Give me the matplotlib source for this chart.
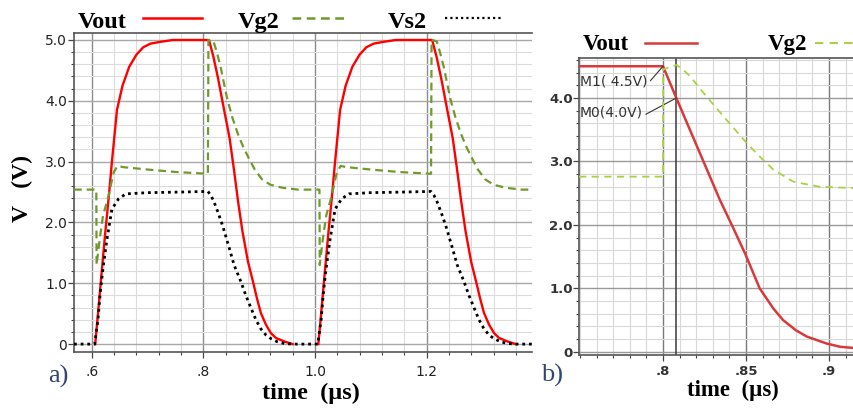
import numpy as np
import matplotlib.pyplot as plt
from matplotlib.lines import Line2D
from matplotlib.ticker import MultipleLocator, FixedLocator, FixedFormatter

nan = np.nan

# ---- panel a) two switching cycles (time in us, volts) ----
t_out = [0.606, 0.611, 0.617, 0.624, 0.630, 0.636, 0.645, 0.655, 0.667, 0.680, 0.692, 0.705, 0.723, 0.745, 0.810,
         0.818, 0.826, 0.835, 0.847, 0.855, 0.862, 0.870, 0.880, 0.889, 0.896, 0.903, 0.912, 0.921, 0.930, 0.946, 0.960,
         0.983,
         1.006, 1.011, 1.017, 1.024, 1.030, 1.036, 1.045, 1.055, 1.067, 1.080, 1.092, 1.105, 1.123, 1.145, 1.210,
         1.218, 1.226, 1.235, 1.247, 1.255, 1.262, 1.270, 1.280, 1.289, 1.296, 1.303, 1.312, 1.321, 1.330, 1.346, 1.360]
v_out = [0.00, 0.50, 1.12, 1.83, 2.39, 3.00, 3.85, 4.25, 4.56, 4.76, 4.88, 4.94, 4.97, 5.00, 5.00,
         4.72, 4.38, 3.95, 3.38, 2.85, 2.35, 1.85, 1.35, 1.02, 0.75, 0.51, 0.32, 0.18, 0.10, 0.04, 0.00,
         nan,
         0.00, 0.50, 1.12, 1.83, 2.39, 3.00, 3.85, 4.25, 4.56, 4.76, 4.88, 4.94, 4.97, 5.00, 5.00,
         4.72, 4.38, 3.95, 3.38, 2.85, 2.35, 1.85, 1.35, 1.02, 0.75, 0.51, 0.32, 0.18, 0.10, 0.04, 0.00]

t_g2 = [0.568, 0.608, 0.6085, 0.614, 0.620, 0.630, 0.639, 0.646, 0.656, 0.700, 0.750, 0.808,
        0.809, 0.818, 0.824, 0.831, 0.837, 0.843, 0.852, 0.862, 0.871, 0.880, 0.892, 0.905, 0.920, 0.942, 0.970,
        1.008, 1.0085, 1.014, 1.020, 1.030, 1.039, 1.046, 1.056, 1.100, 1.150, 1.208,
        1.209, 1.218, 1.224, 1.231, 1.237, 1.243, 1.252, 1.262, 1.271, 1.280, 1.292, 1.305, 1.320, 1.342, 1.370, 1.389]
v_g2 = [2.54, 2.54, 1.30, 1.72, 2.11, 2.44, 2.82, 2.93, 2.91, 2.87, 2.83, 2.80,
        5.00, 4.98, 4.80, 4.55, 4.28, 4.02, 3.72, 3.45, 3.25, 3.08, 2.87, 2.71, 2.62, 2.57, 2.54,
        2.54, 1.30, 1.72, 2.11, 2.44, 2.82, 2.93, 2.91, 2.87, 2.83, 2.80,
        5.00, 4.98, 4.80, 4.55, 4.28, 4.02, 3.72, 3.45, 3.25, 3.08, 2.87, 2.71, 2.62, 2.57, 2.54, 2.54]

t_s2 = [0.568, 0.605, 0.611, 0.615, 0.620, 0.627, 0.636, 0.648, 0.661, 0.700, 0.760, 0.808,
        0.813, 0.818, 0.826, 0.835, 0.845, 0.855, 0.867, 0.876, 0.885, 0.894, 0.903, 0.912, 0.921, 0.932, 0.945, 0.960,
        1.005, 1.011, 1.015, 1.020, 1.027, 1.036, 1.048, 1.061, 1.100, 1.160, 1.208,
        1.213, 1.218, 1.226, 1.235, 1.245, 1.255, 1.267, 1.276, 1.285, 1.294, 1.303, 1.312, 1.321, 1.332, 1.345, 1.360, 1.389]
v_s2 = [0.00, 0.00, 0.40, 0.84, 1.25, 1.72, 2.22, 2.39, 2.47, 2.49, 2.50, 2.51,
        2.45, 2.36, 2.17, 1.93, 1.62, 1.30, 1.03, 0.80, 0.60, 0.40, 0.25, 0.15, 0.09, 0.04, 0.01, 0.00,
        0.00, 0.40, 0.84, 1.25, 1.72, 2.22, 2.39, 2.47, 2.49, 2.50, 2.51,
        2.45, 2.36, 2.17, 1.93, 1.62, 1.30, 1.03, 0.80, 0.60, 0.40, 0.25, 0.15, 0.09, 0.04, 0.01, 0.00, 0.00]

# ---- panel b) zoom on the falling edge ----
tb_out = [0.7494, 0.800, 0.808, 0.8343, 0.8414, 0.8494, 0.8582, 0.8665, 0.8723, 0.880, 0.8866, 0.8986, 0.9066, 0.915]
vb_out = [4.50, 4.50, 4.00, 2.39, 2.00, 1.55, 1.00, 0.68, 0.50, 0.34, 0.24, 0.13, 0.08, 0.06]
tb_g2 = [0.7494, 0.800, 0.8001, 0.8082, 0.812, 0.8163, 0.8263, 0.8384, 0.8504, 0.8585, 0.8665, 0.8785, 0.8946, 0.915]
vb_g2 = [2.76, 2.76, 4.45, 4.52, 4.45, 4.34, 4.02, 3.65, 3.29, 3.07, 2.87, 2.68, 2.60, 2.58]

marker_t = [0.800, 0.808]
marker_v = [4.5, 4.0]
marker_labels = ["M1( 4.5V)", "M0(4.0V)"]

W, H = 854, 409
def fx(px): return px / W
def fy(py): return 1 - py / H

serif = "Liberation Serif"
fig = plt.figure(figsize=(W / 100, H / 100), dpi=100)

# ---------------- panel a ----------------
ax = fig.add_axes([fx(74), fy(352), fx(532) - fx(74), fy(33) - fy(352)])
ax.plot(t_out, v_out, color="#ff0000", lw=1.7, zorder=3)
ax.plot(t_g2, v_g2, color="#6f9a2e", lw=1.6, ls=(0, (3.5, 2.2)), zorder=4)
ax.plot(t_s2, v_s2, color="black", lw=2.0, ls=(0, (1, 1.4)), zorder=5)
ax.set_xlim(0.568, 1.389)
ax.set_ylim(-0.13, 5.115)

ax.xaxis.set_major_locator(FixedLocator([0.6, 0.8, 1.0, 1.2]))
ax.xaxis.set_major_formatter(FixedFormatter([".6", ".8", "1.0", "1.2"]))
ax.xaxis.set_minor_locator(FixedLocator(np.arange(0.6, 1.39, 0.04)))
ax.yaxis.set_major_locator(FixedLocator([0, 1, 2, 3, 4, 5]))
ax.yaxis.set_major_formatter(FixedFormatter(["0", "1.0", "2.0", "3.0", "4.0", "5.0"]))
ax.yaxis.set_minor_locator(MultipleLocator(0.2))
ax.grid(which="minor", color="#dcdcdc", lw=0.8)
ax.grid(which="major", axis="y", color="#a8a8a8", lw=1.0)
ax.grid(which="major", axis="x", color="#8c8c8c", lw=1.0)
ax.set_axisbelow(True)
ax.tick_params(which="major", direction="out", length=4.5, width=0.9, color="#444", labelsize=10, labelcolor="#222")
ax.tick_params(which="minor", direction="out", length=2.5, width=0.8, color="#444")
ax.tick_params(axis="y", pad=0.5)
ax.tick_params(axis="x", pad=5)
ax.spines["right"].set_visible(False)
for s in ("top", "left", "bottom"):
    ax.spines[s].set_color("#555")
    ax.spines[s].set_linewidth(1.2)

# legend row above panel a
legend_a = [("Vout", 78, 143, 202, dict(color="#ff0000", lw=1.8)),
            ("Vg2", 238, 292, 344, dict(color="#6f9a2e", lw=1.8, ls=(0, (3.5, 2.2)))),
            ("Vs2", 388, 445, 501, dict(color="black", lw=1.6, ls=(0, (1, 1.4))))]
for name, tx, l0, l1, style in legend_a:
    fig.text(fx(tx), fy(28), name, family=serif, weight="bold", fontsize=17.5, ha="left", va="baseline")
    fig.add_artist(Line2D([fx(l0), fx(l1)], [fy(18), fy(18)], transform=fig.transFigure, **style))

fig.text(fx(22), fy(188), "V   (V)", family=serif, weight="bold", fontsize=17, rotation=90, ha="center", va="center")
fig.text(fx(311), fy(393), "time  (\u00b5s)", family=serif, weight="bold", fontsize=17.5, ha="center", va="center")
fig.text(fx(58), fy(376), "a)", family=serif, fontsize=19, color="#2e4670", ha="center", va="center")

# ---------------- panel b ----------------
bx = fig.add_axes([fx(579), fy(355), 1 - fx(579), fy(58) - fy(355)])
bx.plot(tb_out, vb_out, color="#d8393b", lw=1.8, zorder=3)
bx.plot(tb_g2, vb_g2, color="#a9d143", lw=1.3, ls=(0, (4, 3)), zorder=4)
bx.axvline(marker_t[1], color="#3a3a3a", lw=1.1, zorder=2)
bx.set_xlim(0.7494, 0.915)
bx.set_ylim(-0.05, 4.63)

bx.xaxis.set_major_locator(FixedLocator([0.8, 0.85, 0.9]))
bx.xaxis.set_major_formatter(FixedFormatter([".8", ".85", ".9"]))
bx.xaxis.set_minor_locator(MultipleLocator(0.01))
bx.yaxis.set_major_locator(FixedLocator([0, 1, 2, 3, 4]))
bx.yaxis.set_major_formatter(FixedFormatter(["0", "1.0", "2.0", "3.0", "4.0"]))
bx.yaxis.set_minor_locator(MultipleLocator(0.2))
bx.grid(which="minor", color="#d8d8d8", lw=0.8)
bx.grid(which="major", axis="y", color="#9a9a9a", lw=1.0)
bx.grid(which="major", axis="x", color="#7a7a7a", lw=1.0)
bx.set_axisbelow(True)
bx.tick_params(which="major", direction="out", length=4, width=0.9, color="#444", labelsize=9.5, labelcolor="#333")
bx.tick_params(which="minor", direction="out", length=2.5, width=0.8, color="#444")
bx.tick_params(axis="y", pad=0.5)
bx.tick_params(axis="x", pad=3.5)
for lab in bx.get_xticklabels() + bx.get_yticklabels():
    lab.set_fontweight("bold")
bx.spines["right"].set_visible(False)
for s in ("top", "left", "bottom"):
    bx.spines[s].set_color("#555")
    bx.spines[s].set_linewidth(1.2)

label_pos = [(0.004, 0.922), (0.004, 0.815)]
for t, v, lab, pos in zip(marker_t, marker_v, marker_labels, label_pos):
    bx.annotate(lab, xy=(t, v), xytext=pos, textcoords="axes fraction", fontsize=10, color="#333",
                ha="left", va="center",
                arrowprops=dict(arrowstyle="-", color="#333", lw=0.8, shrinkA=0, shrinkB=0, relpos=(1, 0.3)))

legend_b = [("Vout", 583, 645, 697, dict(color="#d8393b", lw=1.8)),
            ("Vg2", 768, 815, 854, dict(color="#a9d143", lw=1.5, ls=(0, (4, 3))))]
for name, tx, l0, l1, style in legend_b:
    fig.text(fx(tx), fy(50), name, family=serif, weight="bold", fontsize=16.5, ha="left", va="baseline")
    fig.add_artist(Line2D([fx(l0), fx(l1)], [fy(43), fy(43)], transform=fig.transFigure, **style))

fig.text(fx(733), fy(390), "time  (\u00b5s)", family=serif, weight="bold", fontsize=16.5, ha="center", va="center")
fig.text(fx(552), fy(375), "b)", family=serif, fontsize=19, color="#2e4670", ha="center", va="center")

fig.savefig("out.png", dpi=100)
